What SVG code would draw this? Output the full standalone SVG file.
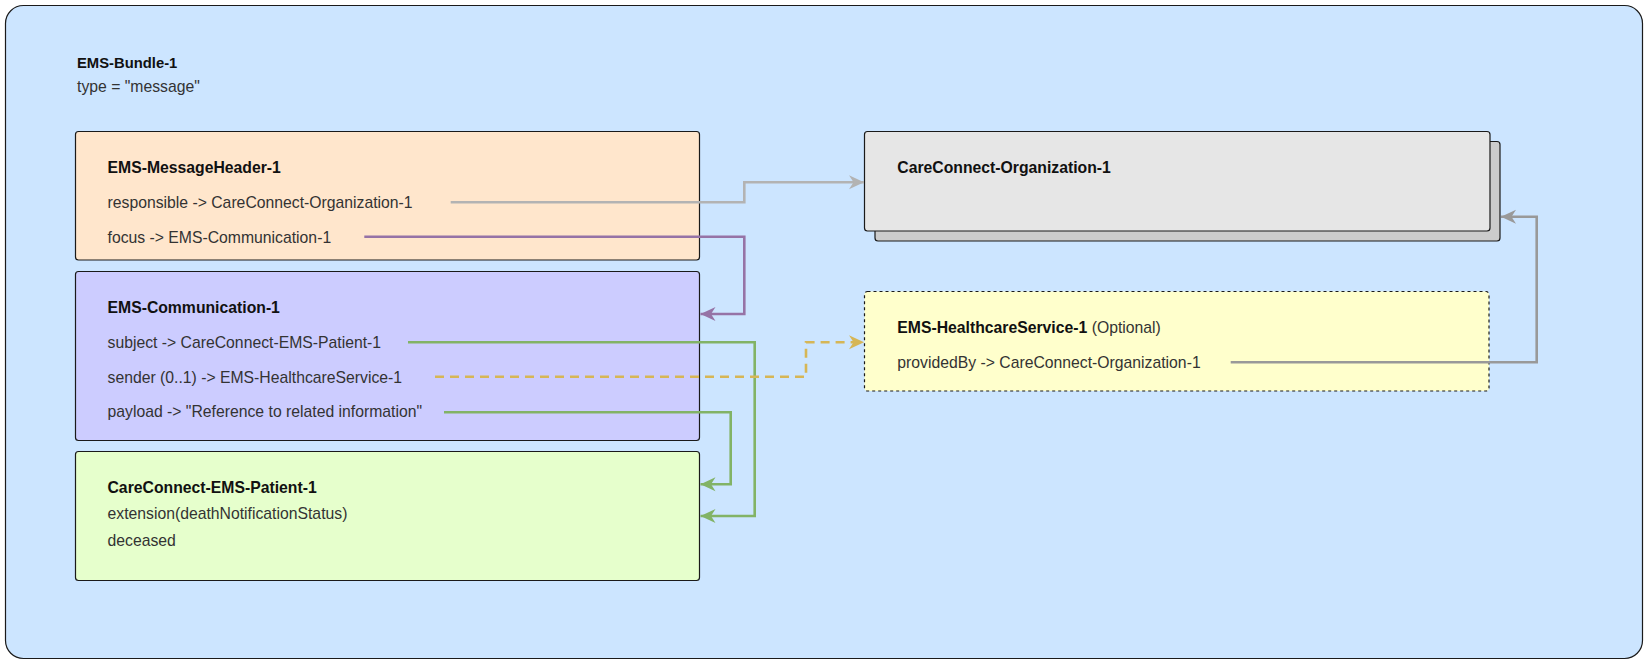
<svg xmlns="http://www.w3.org/2000/svg" width="1649" height="665" viewBox="0 0 1649 665">
<style>
  text { font-family: "Liberation Sans", Arial, sans-serif; }
  .t { font-size: 15.75px; fill: #333333; }
  .b { font-size: 15.75px; font-weight: bold; fill: #111111; }
  .box { stroke: #1a1a1a; stroke-width: 1.2; }
  .conn { fill: none; stroke-width: 2.6; stroke-linejoin: miter; }
</style>
<defs>
  <marker id="aGray" markerUnits="userSpaceOnUse" viewBox="-16 -8 17 16" refX="0" refY="0" markerWidth="17" markerHeight="16" orient="auto"><path d="M0,0 L-15,-7 L-10.5,0 L-15,7 Z" fill="#b3b3b3"/></marker>
  <marker id="aGray2" markerUnits="userSpaceOnUse" viewBox="-16 -8 17 16" refX="0" refY="0" markerWidth="17" markerHeight="16" orient="auto"><path d="M0,0 L-15,-7 L-10.5,0 L-15,7 Z" fill="#999999"/></marker>
  <marker id="aPurple" markerUnits="userSpaceOnUse" viewBox="-16 -8 17 16" refX="0" refY="0" markerWidth="17" markerHeight="16" orient="auto"><path d="M0,0 L-15,-7 L-10.5,0 L-15,7 Z" fill="#9673a6"/></marker>
  <marker id="aGreen" markerUnits="userSpaceOnUse" viewBox="-16 -8 17 16" refX="0" refY="0" markerWidth="17" markerHeight="16" orient="auto"><path d="M0,0 L-15,-7 L-10.5,0 L-15,7 Z" fill="#82b366"/></marker>
  <marker id="aYellow" markerUnits="userSpaceOnUse" viewBox="-16 -8 17 16" refX="0" refY="0" markerWidth="17" markerHeight="16" orient="auto"><path d="M0,0 L-15,-7 L-10.5,0 L-15,7 Z" fill="#d6b656"/></marker>
</defs>

<g id="bundle">
  <rect x="5.5" y="5.5" width="1637" height="653" rx="18" fill="#cce5ff" stroke="#1a1a1a" stroke-width="1.2"/>
  <text x="77" y="68" font-size="14.8" font-weight="bold" fill="#111111">EMS-Bundle-1</text>
  <text x="77" y="92.3" class="t">type = "message"</text>
</g>

<g id="messageheader">
  <rect class="box" x="75.5" y="131.5" width="624" height="128.5" rx="3" fill="#ffe6cc"/>
  <text x="107.5" y="172.7" class="b">EMS-MessageHeader-1</text>
  <text x="107.5" y="207.7" class="t">responsible -&gt; CareConnect-Organization-1</text>
  <text x="107.5" y="242.7" class="t">focus -&gt; EMS-Communication-1</text>
</g>

<g id="communication">
  <rect class="box" x="75.5" y="271.5" width="624" height="169" rx="3" fill="#ccccff"/>
  <text x="107.5" y="312.7" class="b">EMS-Communication-1</text>
  <text x="107.5" y="347.7" class="t">subject -&gt; CareConnect-EMS-Patient-1</text>
  <text x="107.5" y="382.7" class="t">sender (0..1) -&gt; EMS-HealthcareService-1</text>
  <text x="107.5" y="417.3" class="t">payload -&gt; "Reference to related information"</text>
</g>

<g id="patient">
  <rect class="box" x="75.5" y="451.5" width="624" height="129" rx="3" fill="#e6ffcc"/>
  <text x="107.5" y="492.7" class="b">CareConnect-EMS-Patient-1</text>
  <text x="107.5" y="519.3" class="t">extension(deathNotificationStatus)</text>
  <text x="107.5" y="546" class="t">deceased</text>
</g>

<g id="organization">
  <rect class="box" x="875" y="141.5" width="625" height="99.5" rx="3" fill="#cccccc"/>
  <rect class="box" x="864.5" y="131.5" width="625.5" height="99.5" rx="3" fill="#e6e6e6"/>
  <text x="897.3" y="172.7" class="b">CareConnect-Organization-1</text>
</g>

<g id="healthcareservice">
  <rect x="864.5" y="291.5" width="624.5" height="99.5" rx="3" fill="#ffffcc" stroke="#1a1a1a" stroke-width="1.2" stroke-dasharray="3 3"/>
  <text x="897.3" y="332.7"><tspan class="b">EMS-HealthcareService-1</tspan><tspan class="t"> (Optional)</tspan></text>
  <text x="897.3" y="367.7" class="t">providedBy -&gt; CareConnect-Organization-1</text>
</g>

<g id="connectors">
  <path class="conn" stroke="#b3b3b3" d="M450.7,202.3 H744.3 V182.3 H864" marker-end="url(#aGray)"/>
  <path class="conn" stroke="#9673a6" d="M364.3,236.7 H744.3 V314 H700.5" marker-end="url(#aPurple)"/>
  <path class="conn" stroke="#82b366" d="M408,342.3 H754.7 V516 H700.5" marker-end="url(#aGreen)"/>
  <path class="conn" stroke="#82b366" d="M444,412.3 H730.7 V484.3 H700.5" marker-end="url(#aGreen)"/>
  <path class="conn" stroke="#d6b656" stroke-dasharray="9 6" d="M435,376.7 H806 V342.3 H864" marker-end="url(#aYellow)"/>
  <path class="conn" stroke="#999999" d="M1230.7,362.3 H1536.7 V216.7 H1501" marker-end="url(#aGray2)"/>
</g>
</svg>
